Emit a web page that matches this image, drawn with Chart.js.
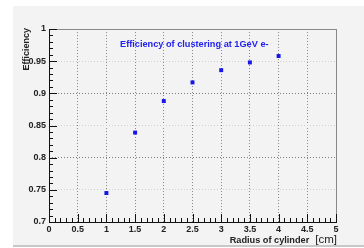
<!DOCTYPE html>
<html><head><meta charset="utf-8">
<script src="https://cdn.jsdelivr.net/npm/chart.js@4/dist/chart.umd.min.js"></script>
<style>html,body{margin:0;padding:0;background:#fff}canvas{display:block}</style>
</head><body>
<div style="width:364px;height:248px"><canvas id="c" width="364" height="248"></canvas></div>
<script>
const radius = [1, 1.5, 2, 2.5, 3, 3.5, 4];
const efficiency = [0.745, 0.839, 0.888, 0.917, 0.936, 0.948, 0.958];
const chartTitle = "Efficiency of clustering at 1GeV e-";
const yTitle = "Efficiency";
const xTitle = "Radius of cylinder";
const xUnit = "[cm]";

const FONT = "'Liberation Sans', Arial, sans-serif";
const fmt = (v) => String(parseFloat(Number(v).toFixed(2)));

const decor = {
  id: 'decor',
  beforeDraw(chart) {
    const ctx = chart.ctx;
    ctx.save();
    ctx.fillStyle = '#ffffff';
    ctx.fillRect(0, 0, chart.width, chart.height);
    ctx.fillStyle = '#f3f3f3';
    ctx.fillRect(13, 6, chart.width - 13, 239);
    ctx.fillStyle = '#c8c8c8';
    ctx.fillRect(13, 245, chart.width - 13, 2);
    ctx.restore();
  },
  afterDatasetsDraw(chart) {
    const ctx = chart.ctx;
    const a = chart.chartArea;
    const xs = chart.scales.x, ys = chart.scales.y;
    ctx.save();
    ctx.strokeStyle = '#888';
    ctx.lineWidth = 1;
    ctx.strokeRect(a.left + 0.5, a.top + 0.5, a.right - a.left, a.bottom - a.top);
    ctx.strokeStyle = '#111';
    ctx.beginPath();
    ctx.moveTo(a.left + 0.5, a.top);
    ctx.lineTo(a.left + 0.5, a.bottom + 0.5);
    ctx.lineTo(a.right + 1, a.bottom + 0.5);
    ctx.stroke();
    ctx.beginPath();
    for (let i = 0; i <= 30; i++) {
      const v = 0.7 + i * 0.01;
      const p = Math.round(ys.getPixelForValue(v)) + 0.5;
      const len = (i % 5 === 0) ? 8 : 4;
      ctx.moveTo(a.left, p);
      ctx.lineTo(a.left + len, p);
    }
    for (let i = 0; i <= 50; i++) {
      const v = i * 0.1;
      const p = Math.round(xs.getPixelForValue(v)) + 0.5;
      const len = (i % 5 === 0) ? 8 : 4;
      ctx.moveTo(p, a.bottom);
      ctx.lineTo(p, a.bottom - len);
    }
    ctx.stroke();
    ctx.fillStyle = '#2222f0';
    ctx.font = 'bold 9.2px ' + FONT;
    ctx.textBaseline = 'middle';
    ctx.textAlign = 'left';
    ctx.fillText(chartTitle, 120, 44);
    ctx.fillStyle = '#222';
    ctx.font = 'bold 9px ' + FONT;
    ctx.save();
    ctx.translate(27, 28);
    ctx.rotate(-Math.PI / 2);
    ctx.textAlign = 'right';
    ctx.textBaseline = 'middle';
    ctx.fillText(yTitle, 0, 0);
    ctx.restore();
    ctx.textAlign = 'right';
    ctx.textBaseline = 'middle';
    ctx.font = '11.5px ' + FONT;
    const uw = ctx.measureText(xUnit).width;
    ctx.fillText(xUnit, 337, 240);
    ctx.font = 'bold 9.2px ' + FONT;
    ctx.fillText(xTitle, 337 - uw - 6, 240);
    ctx.restore();
  }
};

new Chart(document.getElementById('c'), {
  type: 'scatter',
  data: {
    datasets: [{
      data: radius.map((r, i) => ({x: r, y: efficiency[i]})),
      pointStyle: 'rect',
      pointRadius: 2.8,
      backgroundColor: '#1515e8',
      borderColor: '#1515e8',
      borderWidth: 0
    }]
  },
  plugins: [decor],
  options: {
    responsive: false,
    animation: false,
    events: [],
    layout: {padding: {left: 0, top: 29, right: 28, bottom: 0}},
    plugins: {legend: {display: false}, tooltip: {enabled: false}, title: {display: false}},
    scales: {
      x: {
        type: 'linear', min: 0, max: 5,
        afterFit(s) { s.height = 26; },
        ticks: {stepSize: 0.5, padding: 2, color: '#222', font: {family: FONT, size: 9, weight: 'bold'}, maxRotation: 0, autoSkip: false, callback: fmt},
        grid: {drawTicks: false, color: '#8a8a8a', lineWidth: 1, tickLength: 0},
        border: {display: false, dash: [1, 2]}
      },
      y: {
        type: 'linear', min: 0.7, max: 1,
        afterFit(s) { s.width = 49; },
        ticks: {stepSize: 0.05, padding: 3, color: '#222', font: {family: FONT, size: 9, weight: 'bold'}, autoSkip: false, callback: fmt},
        grid: {drawTicks: false, tickLength: 0, lineWidth: 1,
          color: (c) => { const v = c.tick ? c.tick.value : 0; return Math.abs(Math.round(v * 10) - v * 10) < 1e-6 ? '#7a7a7a' : '#d0d0d0'; }},
        border: {display: false, dash: [1, 2]}
      }
    }
  }
});
</script>
</body></html>
